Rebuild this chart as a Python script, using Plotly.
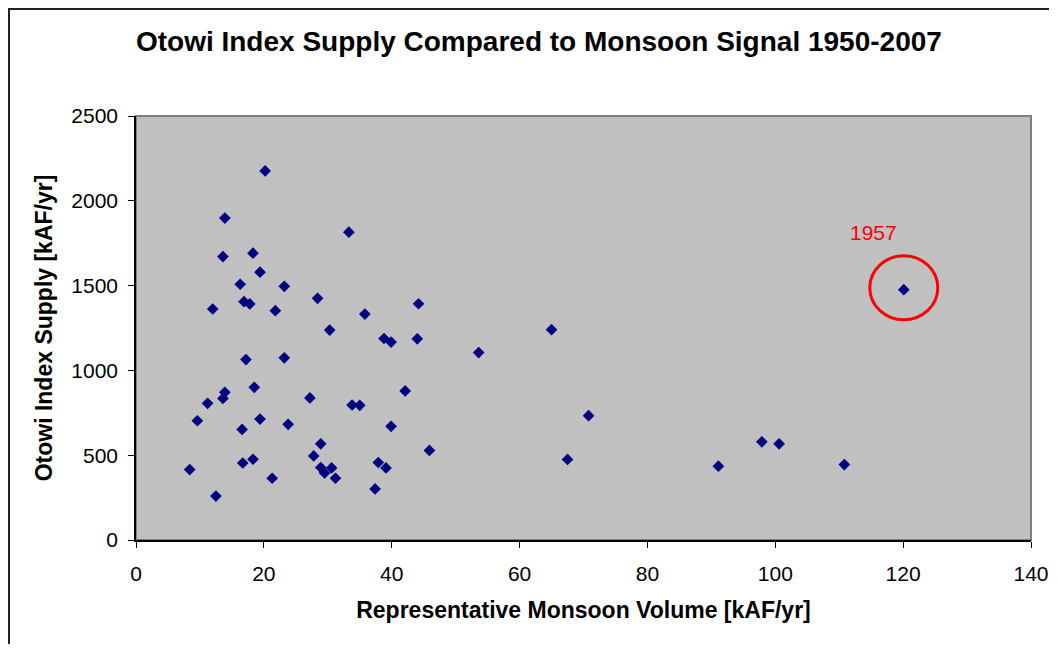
import plotly.graph_objects as go

# Representative monsoon volume [kAF/yr]
monsoon_volume = [
    20.2, 13.9, 13.6, 18.3, 19.4, 16.3, 23.2, 16.9, 17.8, 12.0,
    21.8, 17.2, 23.2, 18.5, 13.9, 13.6, 11.2, 9.6, 16.6, 19.4,
    23.8, 27.2, 16.7, 18.3, 8.4, 21.3, 12.5, 33.3, 28.4, 35.8,
    44.2, 30.3, 38.8, 39.9, 44.0, 42.1, 33.8, 35.0, 39.9, 28.9,
    27.8, 28.9, 30.6, 29.5, 31.2, 45.9, 37.9, 39.1, 37.4, 65.0,
    53.6, 70.8, 67.5, 120.1, 97.9, 100.6, 91.1, 110.8,
]
# Otowi index supply [kAF/yr]
otowi_supply = [
    2176, 1898, 1671, 1691, 1579, 1508, 1496, 1405, 1392, 1362,
    1352, 1064, 1074, 900, 871, 835, 806, 703, 652, 713,
    682, 838, 454, 476, 415, 364, 259, 1815, 1425, 1332,
    1393, 1238, 1188, 1167, 1186, 879, 796, 794, 670, 567,
    496, 427, 425, 395, 364, 528, 457, 425, 301, 1240,
    1105, 733, 475, 1476, 579, 567, 435, 445,
]

highlight_year = "1957"
highlight_x = 120.1
highlight_y = 1476

x_ticks = [0, 20, 40, 60, 80, 100, 120, 140]
y_ticks = [0, 500, 1000, 1500, 2000, 2500]

FONT = "Liberation Sans, Arial, sans-serif"

W, H = 1041, 636
ML, MR, MT, MB = 128, 18, 108, 104
PW = W - ML - MR
PH = H - MT - MB

fig = go.Figure()
fig.add_trace(go.Scatter(
    x=monsoon_volume, y=otowi_supply, mode="markers",
    marker=dict(symbol="diamond", size=9, color="#000080",
                line=dict(width=0)),
    showlegend=False,
))

# red circle around the 1957 point
fig.add_shape(type="circle", xref="x", yref="y",
              xsizemode="pixel", ysizemode="pixel",
              xanchor=highlight_x, yanchor=highlight_y,
              x0=-34, x1=34, y0=-30, y1=34,
              line=dict(color="#FF0000", width=3))
fig.add_annotation(x=highlight_x, y=highlight_y, xref="x", yref="y",
                   text=highlight_year, showarrow=False,
                   xshift=-30, yshift=57,
                   font=dict(family=FONT, size=21, color="#FF0000"))

# plot area grey border
fig.add_shape(type="rect", xref="paper", yref="paper",
              x0=0, x1=1, y0=0, y1=1, layer="below",
              line=dict(color="#808080", width=2))
# outer chart border (left and top edges visible)
fig.add_shape(type="rect", xref="paper", yref="paper",
              x0=(1 - ML) / PW, x1=(W + 50 - ML) / PW,
              y0=-(MB + 50) / PH, y1=1 + (MT - 1) / PH,
              line=dict(color="#222222", width=2))

fig.update_layout(
    width=W, height=H,
    margin=dict(l=ML, r=MR, t=MT, b=MB, autoexpand=False),
    paper_bgcolor="white", plot_bgcolor="#C0C0C0",
    title=dict(text="<b>Otowi Index Supply Compared to Monsoon Signal 1950-2007</b>",
               x=0.51, xanchor="center", y=1 - 33 / H, yanchor="middle",
               font=dict(family=FONT, size=28, color="black")),
    font=dict(family=FONT, color="black"),
)
fig.update_xaxes(
    range=[0, 140], tickvals=x_ticks, ticktext=[str(v) for v in x_ticks],
    automargin=False,
    showgrid=False, zeroline=False,
    showline=True, linecolor="black", linewidth=1.5,
    ticks="outside", ticklen=6, tickcolor="black",
    ticklabelstandoff=8,
    tickfont=dict(family=FONT, size=21),
    title=dict(text="<b>Representative Monsoon Volume [kAF/yr]</b>",
               font=dict(family=FONT, size=23), standoff=18),
)
fig.update_yaxes(
    range=[0, 2500], tickvals=y_ticks, ticktext=[str(v) for v in y_ticks],
    automargin=False,
    showgrid=False, zeroline=False,
    showline=True, linecolor="black", linewidth=1.5,
    ticks="outside", ticklen=6, tickcolor="black",
    ticklabelstandoff=6,
    tickfont=dict(family=FONT, size=21),
    title=dict(text="<b>Otowi Index Supply [kAF/yr]</b>",
               font=dict(family=FONT, size=23), standoff=12),
)

fig.write_html("out.html")
